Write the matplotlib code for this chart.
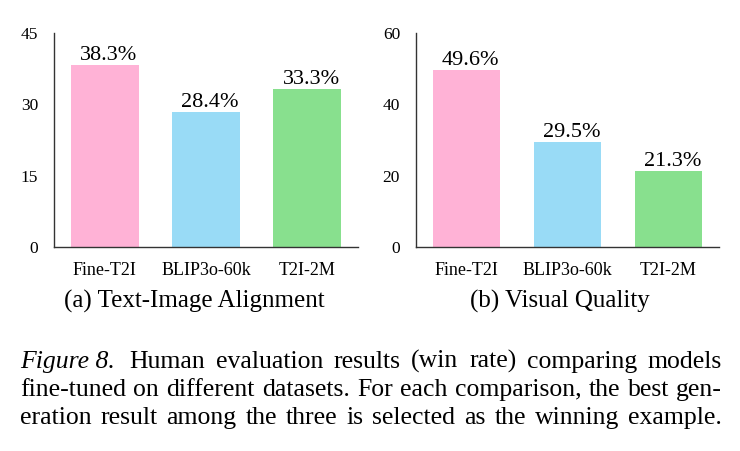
import matplotlib
matplotlib.use("Agg")
import matplotlib.pyplot as plt

plt.rcParams['font.family'] = ['Liberation Serif', 'DejaVu Serif']

models = ['Fine-T2I', 'BLIP3o-60k', 'T2I-2M']
align_rate = [38.3, 28.4, 33.3]
quality_rate = [49.6, 29.5, 21.3]
align_ticks = [0, 15, 30, 45]
quality_ticks = [0, 20, 40, 60]
colors = ['#FFB2D6', '#99DBF6', '#88E08E']
subtitles = ['(a) Text-Image Alignment', '(b) Visual Quality']

caption_lines = [
    [('Figure 8.', 'italic')] + [(w, 'normal') for w in
                                 'Human evaluation results (win rate) comparing models'.split()],
    [(w, 'normal') for w in
     'fine-tuned on different datasets. For each comparison, the best gen-'.split()],
    [(w, 'normal') for w in
     'eration result among the three is selected as the winning example.'.split()],
]

W, H = 740, 451
fig = plt.figure(figsize=(7.4, 4.51), dpi=100)


def px_axes(x0, x1, ytop, ybot):
    return fig.add_axes([x0 / W, 1 - ybot / H, (x1 - x0) / W, (ybot - ytop) / H])


ax1 = px_axes(54, 358, 33, 247)
ax2 = px_axes(416, 719, 33, 247)

for ax, vals, ticks in [(ax1, align_rate, align_ticks), (ax2, quality_rate, quality_ticks)]:
    x = range(len(models))
    ax.bar(x, vals, width=0.67, color=colors)
    for xi, v in zip(x, vals):
        ax.annotate(f'{v}%', (xi, v), xytext=(3, 0), textcoords='offset points',
                    ha='center', va='bottom', fontsize=16)
    ax.set_xlim(-0.5, 2.5)
    ax.set_ylim(0, ticks[-1])
    ax.set_yticks(ticks)
    ax.set_xticks(list(x))
    ax.set_xticklabels(models, fontsize=13)
    ax.tick_params(axis='y', length=0, pad=11.5, labelsize=12.5)
    ax.tick_params(axis='x', length=0, pad=11)
    for s in ['top', 'right']:
        ax.spines[s].set_visible(False)
    for s in ['left', 'bottom']:
        ax.spines[s].set_color('#333333')
        ax.spines[s].set_linewidth(1.0)

fig.text(194 / W, 1 - 301 / H, subtitles[0], ha='center', va='center', fontsize=18)
fig.text(560 / W, 1 - 301 / H, subtitles[1], ha='center', va='center', fontsize=18)

# justified caption
renderer = fig.canvas.get_renderer()
left_px, right_px = 20, 722
baselines = [368, 396, 424]
for n, (line, yb) in enumerate(zip(caption_lines, baselines)):
    texts = [fig.text(0, 1 - yb / H, w, style=st, fontsize=18.5, va='baseline', ha='left')
             for w, st in line]
    widths = [t.get_window_extent(renderer).width for t in texts]
    extra = 4 if n == 0 else 0  # wider space after "Figure 8."
    gap = (right_px - left_px - sum(widths) - extra) / (len(texts) - 1)
    xpos = left_px
    for i, (t, wd) in enumerate(zip(texts, widths)):
        t.set_x(xpos / W)
        xpos += wd + gap + (extra if (n == 0 and i == 0) else 0)

fig.savefig('out.png', dpi=100)
